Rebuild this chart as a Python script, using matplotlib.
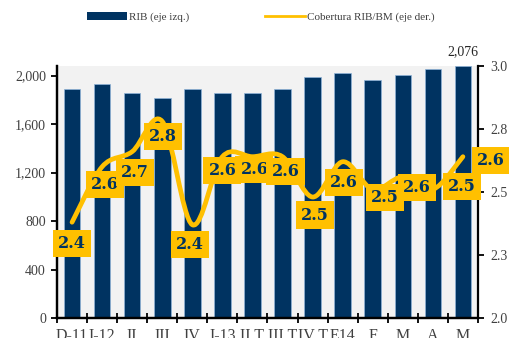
import numpy as np
import matplotlib
matplotlib.use("Agg")
import matplotlib.pyplot as plt
from matplotlib.path import Path
from matplotlib.patches import PathPatch, Patch
from matplotlib.lines import Line2D

# datos
periodos = ["D-11", "I-12", "II", "III", "IV", "I-13", "II T", "III T",
            "IV T", "E14", "F", "M", "A", "M"]
rib = [1890, 1934, 1857, 1812, 1890, 1857, 1857, 1890,
       1989, 2022, 1967, 2003, 2055, 2076]
cobertura = [2.38, 2.60, 2.66, 2.78, 2.37, 2.64, 2.64, 2.64,
             2.48, 2.62, 2.51, 2.56, 2.51, 2.64]
# desplazamiento de cada etiqueta (px)
desp = [(0, -21), (3, -18), (3, -21), (1, -15), (-2, -20), (0, -14), (2, -13),
        (3, -15), (2, -18), (1, -21), (12, -8), (14, -11), (29, 3), (28, -4)]

azul = "#003361"
amarillo = "#FFC000"
gris = "#404040"
serif = ["Liberation Serif", "DejaVu Serif"]


def curva_suave(x, y):
    # linea suavizada tipo Excel (bezier por tramos)
    pts = np.column_stack([x, y])
    n = len(pts)
    verts = [pts[0]]
    codes = [Path.MOVETO]
    for i in range(n - 1):
        p0 = pts[max(i - 1, 0)]
        p1 = pts[i]
        p2 = pts[i + 1]
        p3 = pts[min(i + 2, n - 1)]
        verts += [p1 + (p2 - p0) / 6.0, p2 - (p3 - p1) / 6.0, p2]
        codes += [Path.CURVE4] * 3
    return Path(verts, codes)


fig = plt.figure(figsize=(5.09, 3.38), dpi=100)
ax = fig.add_axes([0.112, 0.059, 0.827, 0.746])
ax.set_facecolor("#f2f2f2")

x = np.arange(len(periodos))
ax.bar(x, rib, width=0.55, color=azul, edgecolor="#8fb4d9", linewidth=0.5, zorder=2)
ax.set_xlim(-0.5, len(periodos) - 0.5)
ax.set_ylim(0, 2080)
ax.set_yticks(np.arange(0, 2001, 400))
ax.set_yticklabels([f"{v:,}" for v in range(0, 2001, 400)])
ax.set_xticks(x)
ax.set_xticklabels(periodos)
ax.set_xticks(np.arange(-0.5, len(periodos)), minor=True)
ax.tick_params(axis="x", which="major", length=0, pad=7, labelsize=11.5, labelcolor=gris)
ax.tick_params(axis="x", which="minor", direction="inout", length=7, width=1.3)
ax.tick_params(axis="y", direction="out", length=4, width=1.3, pad=4,
               labelsize=10, labelcolor=gris)
for lab in ax.get_xticklabels() + ax.get_yticklabels():
    lab.set_family(serif)

ax.annotate(f"{rib[-1]:,}", (x[-1], rib[-1]), xytext=(0, 8), textcoords="offset pixels",
            ha="center", va="bottom", fontsize=10, family=serif, color="#262626",
            annotation_clip=False)

ax2 = ax.twinx()
ax2.set_ylim(2.0, 3.0)
ax2.set_yticks([2.0, 2.25, 2.5, 2.75, 3.0])
ax2.set_yticklabels(["2.0", "2.3", "2.5", "2.8", "3.0"])
ax2.tick_params(axis="y", direction="out", length=4, width=1.3, pad=5,
                labelsize=10, labelcolor=gris)
for lab in ax2.get_yticklabels():
    lab.set_family(serif)

ax2.add_patch(PathPatch(curva_suave(x, cobertura), facecolor="none", edgecolor=amarillo,
                        linewidth=3.4, capstyle="round", joinstyle="round", zorder=3))

for xi, v, (dx, dy) in zip(x, cobertura, desp):
    ax2.annotate(f"{v:.1f}", (xi, v), xytext=(dx, dy), textcoords="offset pixels",
                 ha="center", va="center", fontsize=11.5, fontweight="bold",
                 family="DejaVu Serif", color=azul, zorder=5,
                 bbox=dict(boxstyle="square,pad=0.32", facecolor=amarillo, edgecolor="none"))

for a in (ax, ax2):
    a.spines["top"].set_visible(False)
    for s in ("left", "right", "bottom"):
        a.spines[s].set_linewidth(1.6)
ax.spines["right"].set_visible(False)

handles = [Patch(facecolor=azul, edgecolor="none"),
           Line2D([0], [0], color=amarillo, linewidth=2)]
fig.legend(handles, ["RIB (eje izq.)", "Cobertura RIB/BM (eje der.)"],
           loc="center", bbox_to_anchor=(0.512, 0.95), ncol=2, frameon=False,
           prop={"family": serif, "size": 8}, labelcolor=gris,
           handlelength=3.6, handletextpad=0.2, columnspacing=6.8)

fig.savefig("out.png", dpi=100)
